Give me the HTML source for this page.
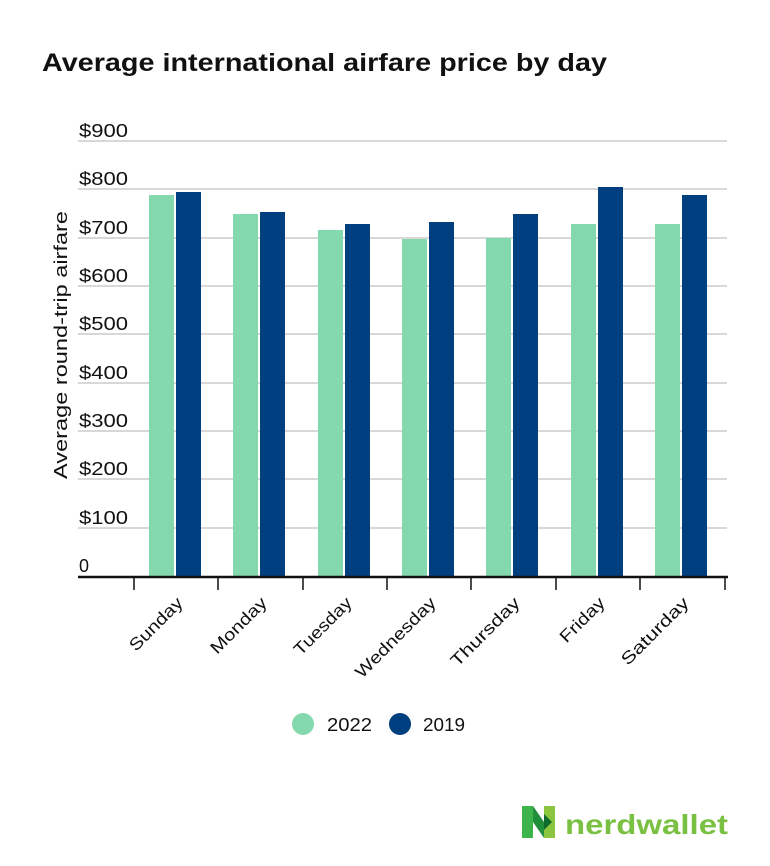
<!DOCTYPE html>
<html><head><style>
body{margin:0;background:#fff;}
svg text{font-family:"Liberation Sans",sans-serif;fill:#111;}
</style></head><body>
<svg width="770" height="861" viewBox="0 0 770 861" xmlns="http://www.w3.org/2000/svg">
<rect width="770" height="861" fill="#fff"/>
<text x="42" y="71" font-size="25" font-weight="bold" textLength="565" lengthAdjust="spacingAndGlyphs">Average international airfare price by day</text>
<g stroke="#cccccc" stroke-width="1.5">
<line x1="78" x2="727" y1="141" y2="141"/>
<line x1="78" x2="727" y1="189" y2="189"/>
<line x1="78" x2="727" y1="238" y2="238"/>
<line x1="78" x2="727" y1="286" y2="286"/>
<line x1="78" x2="727" y1="334" y2="334"/>
<line x1="78" x2="727" y1="383" y2="383"/>
<line x1="78" x2="727" y1="431" y2="431"/>
<line x1="78" x2="727" y1="479" y2="479"/>
<line x1="78" x2="727" y1="528" y2="528"/>
</g>
<g font-size="18">
<text x="79" y="137" textLength="49" lengthAdjust="spacingAndGlyphs">$900</text>
<text x="79" y="185" textLength="49" lengthAdjust="spacingAndGlyphs">$800</text>
<text x="79" y="234" textLength="49" lengthAdjust="spacingAndGlyphs">$700</text>
<text x="79" y="282" textLength="49" lengthAdjust="spacingAndGlyphs">$600</text>
<text x="79" y="330" textLength="49" lengthAdjust="spacingAndGlyphs">$500</text>
<text x="79" y="379" textLength="49" lengthAdjust="spacingAndGlyphs">$400</text>
<text x="79" y="427" textLength="49" lengthAdjust="spacingAndGlyphs">$300</text>
<text x="79" y="475" textLength="49" lengthAdjust="spacingAndGlyphs">$200</text>
<text x="79" y="524" textLength="49" lengthAdjust="spacingAndGlyphs">$100</text>
<text x="79" y="572">0</text>
</g>
<text transform="translate(67,345) rotate(-90)" font-size="18" text-anchor="middle" textLength="268" lengthAdjust="spacingAndGlyphs">Average round-trip airfare</text>
<g fill="#84d8ad">
<rect x="149" y="195" width="25" height="381"/>
<rect x="233" y="214" width="25" height="362"/>
<rect x="318" y="230" width="25" height="346"/>
<rect x="402" y="239" width="25" height="337"/>
<rect x="486" y="238" width="25" height="338"/>
<rect x="571" y="224" width="25" height="352"/>
<rect x="655" y="224" width="25" height="352"/>
</g>
<g fill="#003f7f">
<rect x="176" y="192" width="25" height="384"/>
<rect x="260" y="212" width="25" height="364"/>
<rect x="345" y="224" width="25" height="352"/>
<rect x="429" y="222" width="25" height="354"/>
<rect x="513" y="214" width="25" height="362"/>
<rect x="598" y="187" width="25" height="389"/>
<rect x="682" y="195" width="25" height="381"/>
</g>
<line x1="78" x2="728" y1="577" y2="577" stroke="#111" stroke-width="2.5"/>
<g stroke="#111" stroke-width="1.5">
<line x1="134" x2="134" y1="577" y2="590"/>
<line x1="218" x2="218" y1="577" y2="590"/>
<line x1="303" x2="303" y1="577" y2="590"/>
<line x1="387" x2="387" y1="577" y2="590"/>
<line x1="471" x2="471" y1="577" y2="590"/>
<line x1="556" x2="556" y1="577" y2="590"/>
<line x1="640" x2="640" y1="577" y2="590"/>
<line x1="725" x2="725" y1="577" y2="590"/>
</g>
<g font-size="17" text-anchor="end">
<text transform="translate(184,604) rotate(-45)" textLength="68" lengthAdjust="spacingAndGlyphs">Sunday</text>
<text transform="translate(268,604) rotate(-45)" textLength="72" lengthAdjust="spacingAndGlyphs">Monday</text>
<text transform="translate(353,604) rotate(-45)" textLength="74" lengthAdjust="spacingAndGlyphs">Tuesday</text>
<text transform="translate(437,604) rotate(-45)" textLength="106" lengthAdjust="spacingAndGlyphs">Wednesday</text>
<text transform="translate(521,604) rotate(-45)" textLength="90" lengthAdjust="spacingAndGlyphs">Thursday</text>
<text transform="translate(606,604) rotate(-45)" textLength="56" lengthAdjust="spacingAndGlyphs">Friday</text>
<text transform="translate(690,604) rotate(-45)" textLength="88" lengthAdjust="spacingAndGlyphs">Saturday</text>
</g>
<circle cx="303" cy="724" r="11" fill="#84d8ad"/>
<text x="327" y="731" font-size="18" textLength="45" lengthAdjust="spacingAndGlyphs">2022</text>
<circle cx="400" cy="724" r="11" fill="#003f7f"/>
<text x="423" y="731" font-size="18" textLength="42" lengthAdjust="spacingAndGlyphs">2019</text>
<g>
<polygon points="522,806 533,806 533,838 522,838" fill="#3cb44b"/>
<polygon points="533,806 544,822 544,838 533,822" fill="#1f8f3a"/>
<polygon points="544,806 555,806 555,838 544,838" fill="#8cc63f"/>
<polygon points="544,814 552,822 544,830" fill="#0f6b2e"/>
</g>
<text x="565" y="834" font-size="28" font-weight="bold" style="fill:#7ac143" textLength="163" lengthAdjust="spacingAndGlyphs">nerdwallet</text>
</svg>
</body></html>
